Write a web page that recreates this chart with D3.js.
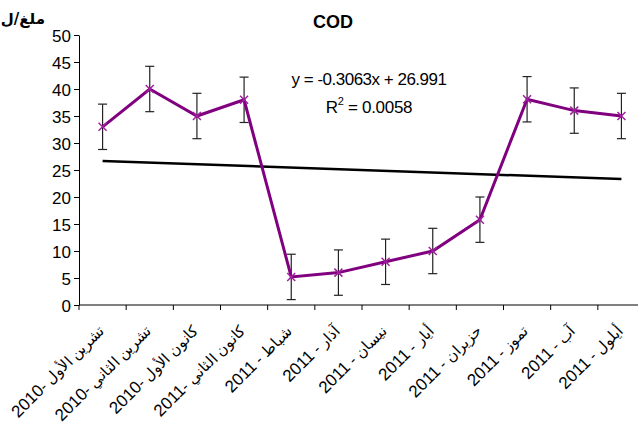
<!DOCTYPE html>
<html>
  <head>
    <meta charset="utf-8">
    <title>COD</title>
    <script src="https://d3js.org/d3.v7.min.js"></script>
    <style>
      body { margin: 0; background: #fff; }
      svg { display: block; font-family: "Liberation Sans", Arial, sans-serif; }
      .axis path, .axis line { stroke: #000; }
      .axis text { font-size: 17px; fill: #000; }
    </style>
  </head>
  <body>
    <svg id="chart" width="638" height="430"></svg>
    <script>
      // data
      var monthNames = ["تشرين الأول", "تشرين الثاني", "كانون الأول", "كانون الثاني", "شباط", "آذار",
        "نيسان", "أيار", "حزيران", "تموز", "آب", "أيلول"];
      var years = ["2010", "2010", "2010", "2011", "2011", "2011", "2011", "2011", "2011", "2011", "2011", "2011"];
      var seps = ["- ", "- ", "- ", "- ", " - ", " - ", " - ", " - ", " - ", " - ", " - ", " - "];
      var cod = [33, 40, 35, 38, 5.2, 6, 8, 10, 15.8, 38.1, 36, 35];
      var codErr = [4.2, 4.2, 4.2, 4.2, 4.2, 4.2, 4.2, 4.2, 4.2, 4.2, 4.2, 4.2];
      var yTicks = [0, 5, 10, 15, 20, 25, 30, 35, 40, 45, 50];
      var trend = { slope: -0.3063, intercept: 26.991, r2: "0.0058" };

      var svg = d3.select("#chart");
      var margin = { top: 35, left: 79, bottom: 125 };
      var plotH = 430 - margin.top - margin.bottom;

      // scales
      x = d3.scaleBand()
        .domain(d3.range(monthNames.length))
        .range([margin.left, 645])
        .padding(0);
      y = d3.scaleLinear()
        .domain([0, 50])
        .range([margin.top + plotH, margin.top]);
      cx = function(i) { return x(i) + x.bandwidth() / 2; };

      // y axis
      svg.append("g")
        .attr("class", "axis")
        .attr("transform", "translate(" + margin.left + ",0)")
        .call(d3.axisLeft(y).tickValues(yTicks).tickSize(5).tickSizeOuter(0).tickPadding(3))
        .selectAll("text")
          .attr("dy", "0.36em");

      // x axis: ticks on category boundaries
      var xAxis = svg.append("g")
        .attr("class", "axis")
        .attr("transform", "translate(0," + y(0) + ")");
      xAxis.append("line")
        .attr("x1", margin.left).attr("x2", 645);
      xAxis.selectAll(".tick")
          .data(d3.range(monthNames.length + 1))
        .enter().append("line")
          .attr("x1", function(d) { return d < monthNames.length ? x(d) : 645; })
          .attr("x2", function(d) { return d < monthNames.length ? x(d) : 645; })
          .attr("y1", 0).attr("y2", 5);
      var labs = xAxis.selectAll(".lab")
          .data(monthNames)
        .enter().append("text")
          .attr("class", "lab")
          .attr("text-anchor", "end")
          .attr("transform", function(d, i) { return "translate(" + (cx(i) + 2) + ",27) rotate(-45)"; });
      labs.append("tspan")
        .style("font-size", "17px")
        .text(function(d, i) { return years[i]; });
      labs.append("tspan")
        .style("font-size", "15px")
        .text(function(d, i) { return seps[i] + d; });

      // trendline
      svg.append("line")
        .attr("x1", cx(0)).attr("y1", y(trend.slope * 1 + trend.intercept))
        .attr("x2", cx(monthNames.length - 1)).attr("y2", y(trend.slope * monthNames.length + trend.intercept))
        .attr("stroke", "#000")
        .attr("stroke-width", 2.5);

      // error bars
      var bars = svg.append("g")
        .attr("stroke", "#222")
        .attr("stroke-width", 1.2);
      cod.forEach(function(v, i) {
        var top = y(v + codErr[i]), bot = y(v - codErr[i]);
        bars.append("line").attr("x1", cx(i)).attr("x2", cx(i)).attr("y1", top).attr("y2", bot);
        bars.append("line").attr("x1", cx(i) - 4.5).attr("x2", cx(i) + 4.5).attr("y1", top).attr("y2", top);
        bars.append("line").attr("x1", cx(i) - 4.5).attr("x2", cx(i) + 4.5).attr("y1", bot).attr("y2", bot);
      });

      // COD line
      line = d3.line()
        .x(function(d, i) { return cx(i); })
        .y(function(d) { return y(d); });
      svg.append("path")
        .datum(cod)
        .attr("d", line)
        .attr("fill", "none")
        .attr("stroke", "#800080")
        .attr("stroke-width", 3);

      // x markers
      svg.append("g")
        .selectAll("path")
          .data(cod)
        .enter().append("path")
          .attr("d", function(d, i) {
            var px = cx(i), py = y(d), r = 4;
            return "M" + (px - r) + "," + (py - r) + "L" + (px + r) + "," + (py + r)
              + "M" + (px - r) + "," + (py + r) + "L" + (px + r) + "," + (py - r);
          })
          .attr("stroke", "#a020a0")
          .attr("stroke-width", 1.5);

      // titles
      svg.append("text")
        .attr("x", 333).attr("y", 28)
        .attr("text-anchor", "middle")
        .style("font-size", "18px").style("font-weight", "bold")
        .text("COD");
      svg.append("text")
        .attr("x", 45).attr("y", 24)
        .attr("text-anchor", "end")
        .style("font-size", "15px").style("font-weight", "bold")
        .style("font-family", "'DejaVu Sans', sans-serif")
        .text("ملغ/ل");

      // trend equation
      svg.append("text")
        .attr("x", 369).attr("y", 85)
        .attr("text-anchor", "middle")
        .style("font-size", "17px").style("letter-spacing", "-0.5px")
        .text("y = " + trend.slope + "x + " + trend.intercept);
      var r2 = svg.append("text")
        .attr("x", 369).attr("y", 113)
        .attr("text-anchor", "middle")
        .style("font-size", "17px").style("letter-spacing", "-0.3px");
      r2.append("tspan").text("R");
      r2.append("tspan").attr("dy", -8).style("font-size", "11px").text("2");
      r2.append("tspan").attr("dy", 8).text(" = " + trend.r2);
    </script>
  </body>
</html>
